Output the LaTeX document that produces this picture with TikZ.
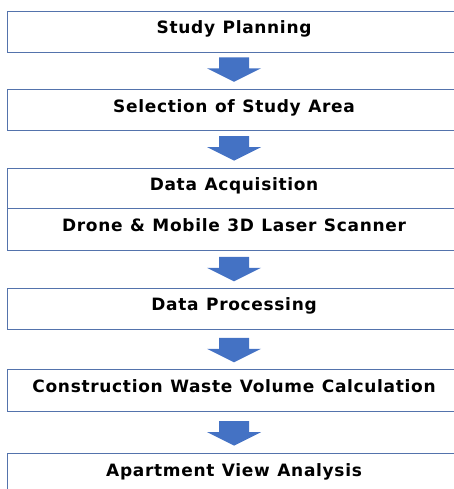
\documentclass[tikz,border=0pt]{standalone}
\usepackage{fontspec}
\setmainfont{DejaVu Sans}[LetterSpace=4]
\usetikzlibrary{calc}
\definecolor{boxline}{RGB}{84,115,172}
\definecolor{arrowfill}{RGB}{68,114,196}
\newcommand{\wsp}{\hspace{7.5pt}}
\tikzset{
  stepbox/.style={draw=boxline, line width=1.1pt, fill=white, rectangle, inner sep=0pt,
    minimum width=454pt, anchor=north west, text height=8pt, text depth=4.4pt,
    font=\bfseries\fontsize{17}{20}\selectfont},
  blockarrow/.style={fill=arrowfill, draw=none}
}
\newcommand{\blockarr}[2]{%
  \fill[blockarrow] ($(#1.south)+(-15,#2)$) -- ++(30,0) -- ++(0,11) -- ++(12,0) -- ++(-27,13.5) -- ++(-27,-13.5) -- ++(12,0) -- cycle;}
\begin{document}
\begin{tikzpicture}[x=1pt,y=-1pt]
\useasboundingbox (0,0) rectangle (454,489);
\clip (0,0) rectangle (454,489);
\node[stepbox, minimum height=41pt] (b1) at (6.5,10.7) {Study\wsp Planning};
\node[stepbox, minimum height=41pt] (b2) at (6.5,89.3) {Selection\wsp of\wsp Study\wsp Area};
\node[stepbox, minimum height=40pt] (b3a) at (6.5,168.3) {Data\wsp Acquisition};
\node[stepbox, minimum height=41.7pt] (b3b) at (6.5,208.3) {Drone\wsp\&\wsp Mobile\wsp 3D\wsp Laser\wsp Scanner};
\node[stepbox, minimum height=40.5pt] (b4) at (6.5,288.3) {Data\wsp Processing};
\node[stepbox, minimum height=41.4pt] (b5) at (6.5,369.3) {Construction\wsp Waste\wsp Volume\wsp Calculation};
\node[stepbox, minimum height=42pt] (b6) at (6.5,453.3) {Apartment\wsp View\wsp Analysis};
\blockarr{b1}{4.5}
\blockarr{b2}{4.7}
\blockarr{b3b}{5.7}
\blockarr{b4}{7.9}
\blockarr{b5}{9.3}
\end{tikzpicture}
\end{document}
